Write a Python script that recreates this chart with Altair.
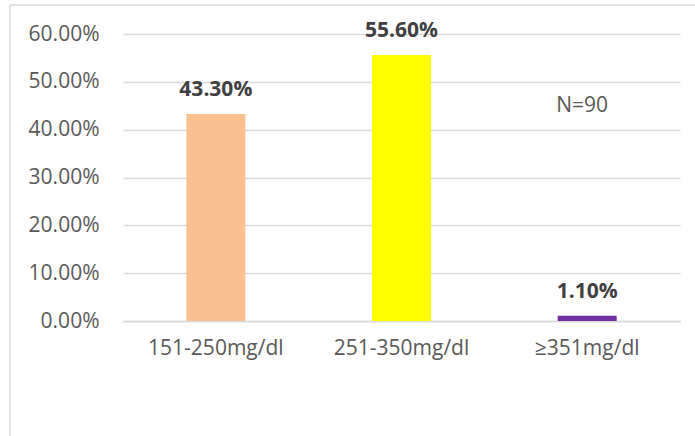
import altair as alt
import pandas as pd

categories = ["151-250mg/dl", "251-350mg/dl", "≥351mg/dl"]
values = [0.433, 0.556, 0.011]
colors = ["#FAC090", "#FFFF00", "#7030A0"]
y_ticks = [0, 0.1, 0.2, 0.3, 0.4, 0.5, 0.6]
note_text = ["N=90"]
note_pos = [0.45]

df = pd.DataFrame({"cat": categories, "val": values, "color": colors})
note_df = pd.DataFrame({"cat": [categories[2]], "val": note_pos, "txt": note_text})

FONT = "Open Sans"
FS = 21

x_enc = alt.X("cat:N", sort=categories, title=None,
              scale=alt.Scale(paddingInner=0, paddingOuter=0),
              axis=alt.Axis(labelAngle=0, labelFont=FONT, labelFontSize=FS,
                            labelColor="#595959", labelPadding=16, ticks=False,
                            domain=True, domainColor="#D9D9D9", domainWidth=1.5))
y_enc = alt.Y("val:Q", title=None,
              scale=alt.Scale(domain=[0, 0.6], nice=False),
              axis=alt.Axis(values=y_ticks, format=".2%", labelFont=FONT,
                            labelFontSize=FS, labelColor="#595959", labelPadding=24,
                            ticks=False, domain=False, grid=True,
                            gridColor="#D9D9D9", gridWidth=1.5))

bars = alt.Chart(df).mark_bar(size=59).encode(
    x=x_enc, y=y_enc,
    color=alt.Color("color:N", scale=None),
)

labels = alt.Chart(df).mark_text(
    font=FONT, fontSize=FS, fontWeight="bold", color="#404040",
    baseline="alphabetic", dy=-18,
).encode(
    x=alt.X("cat:N", sort=categories),
    y=alt.Y("val:Q"),
    text=alt.Text("val:Q", format=".2%"),
)

note = alt.Chart(note_df).mark_text(
    font=FONT, fontSize=FS, color="#595959", baseline="middle", dx=-5,
).encode(
    x=alt.X("cat:N", sort=categories),
    y=alt.Y("val:Q"),
    text="txt:N",
)

frame_left = alt.Chart(pd.DataFrame({"a": [0]})).mark_rule(
    color="#D9D9D9", strokeWidth=1.5).encode(
    x=alt.value(-113), y=alt.value(-29), y2=alt.value(402))
frame_top = alt.Chart(pd.DataFrame({"a": [0]})).mark_rule(
    color="#D9D9D9", strokeWidth=1.5).encode(
    x=alt.value(-113), x2=alt.value(572), y=alt.value(-29))

chart = alt.layer(bars, labels, note, frame_left, frame_top).properties(
    width=557, height=287,
    autosize=alt.AutoSizeParams(type="none"),
    padding={"left": 123, "top": 34, "right": 15, "bottom": 115},
    background="white",
).configure_view(stroke=None)

chart.save("out.html", embed_options={"renderer": "svg", "actions": False})
